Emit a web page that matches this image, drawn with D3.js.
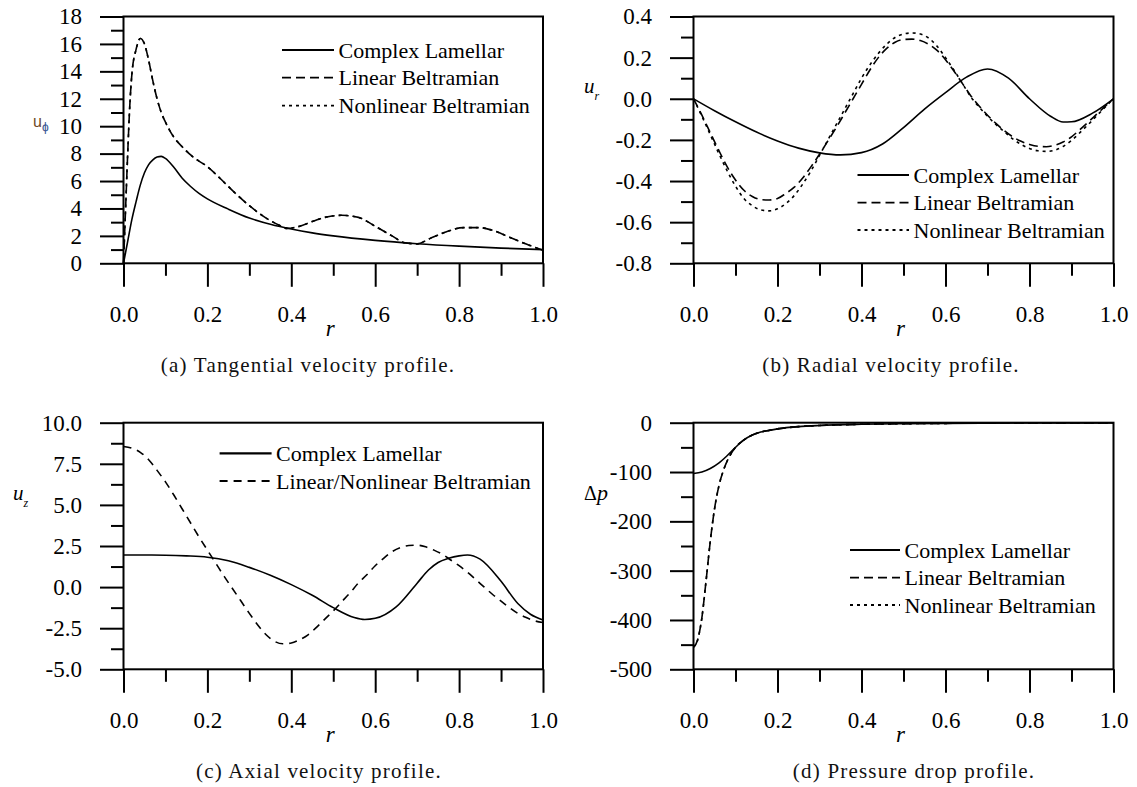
<!DOCTYPE html>
<html><head><meta charset="utf-8">
<script src="https://cdn.jsdelivr.net/npm/d3@7"></script>
<style>body{margin:0;background:#fff}svg{display:block}
svg text{font-family:"Liberation Serif","Times New Roman",Tinos,"DejaVu Serif",serif}
svg text.sans{font-family:"Liberation Sans",Arial,sans-serif}
</style>
</head><body>
<svg id="chart" width="1137" height="787"></svg>
<script>
// ---------- data ----------
const xTickLabels = ["0.0","0.2","0.4","0.6","0.8","1.0"];

// (a) tangential velocity
const aYLabels = ["0","2","4","6","8","10","12","14","16","18"];
const aComplexR = [0,0.01,0.02,0.03,0.04,0.05,0.06,0.07,0.08,0.09,0.1,0.12,0.14,0.16,0.18,0.2,0.25,0.3,0.35,0.4,0.45,0.5,0.6,0.7,0.8,0.9,1.0];
const aComplex  = [0,1.6,3.2,4.5,5.7,6.6,7.2,7.55,7.75,7.8,7.65,7.0,6.2,5.6,5.1,4.7,3.95,3.3,2.85,2.5,2.22,2.0,1.67,1.43,1.25,1.11,1.0];
const aBeltR = [0,0.005,0.01,0.015,0.02,0.03,0.04,0.05,0.06,0.07,0.08,0.09,0.1,0.11,0.12,0.14,0.16,0.18,0.2,0.23,0.26,0.3,0.34,0.37,0.39,0.42,0.45,0.48,0.52,0.56,0.6,0.64,0.67,0.7,0.73,0.77,0.81,0.85,0.88,0.92,0.96,1.0];
const aLinear    = [0,4.0,8.0,11.5,13.8,15.6,16.4,16.0,14.8,13.3,12.0,11.0,10.3,9.7,9.2,8.5,7.9,7.45,7.05,6.2,5.3,4.2,3.3,2.8,2.55,2.7,3.05,3.35,3.5,3.35,2.7,2.0,1.5,1.42,1.8,2.3,2.6,2.6,2.4,1.9,1.4,0.95];
const aNonlinear = [0,4.0,8.0,11.5,13.8,15.6,16.4,16.0,14.8,13.3,12.0,11.0,10.3,9.7,9.2,8.5,7.9,7.45,7.05,6.2,5.3,4.2,3.3,2.8,2.55,2.7,3.05,3.35,3.5,3.35,2.7,2.0,1.5,1.42,1.8,2.3,2.6,2.6,2.4,1.9,1.4,0.95];

// (b) radial velocity
const bYLabels = ["-0.8","-0.6","-0.4","-0.2","0.0","0.2","0.4"];
const bComplexR = [0,0.05,0.1,0.15,0.2,0.25,0.3,0.35,0.4,0.45,0.5,0.55,0.6,0.65,0.7,0.75,0.8,0.85,0.88,0.9,0.95,1.0];
const bComplex  = [0,-0.058,-0.112,-0.162,-0.205,-0.24,-0.263,-0.273,-0.262,-0.22,-0.14,-0.05,0.03,0.105,0.145,0.1,0.0,-0.085,-0.113,-0.112,-0.07,0];
const bBeltR = [0,0.02,0.04,0.06,0.08,0.1,0.12,0.14,0.16,0.18,0.2,0.22,0.24,0.26,0.28,0.3,0.32,0.34,0.36,0.38,0.4,0.42,0.44,0.46,0.48,0.5,0.52,0.54,0.56,0.58,0.6,0.62,0.64,0.66,0.68,0.7,0.72,0.74,0.76,0.78,0.8,0.82,0.84,0.86,0.88,0.9,0.92,0.94,0.96,0.98,1.0];
const bLinear    = [0,-0.08,-0.165,-0.25,-0.33,-0.395,-0.445,-0.475,-0.49,-0.492,-0.485,-0.46,-0.43,-0.385,-0.33,-0.27,-0.205,-0.14,-0.07,0.0,0.07,0.14,0.2,0.245,0.275,0.288,0.29,0.283,0.265,0.235,0.19,0.135,0.075,0.015,-0.035,-0.08,-0.12,-0.155,-0.185,-0.207,-0.222,-0.231,-0.233,-0.226,-0.21,-0.185,-0.15,-0.113,-0.075,-0.037,0];
const bNonlinear = [0,-0.085,-0.175,-0.265,-0.35,-0.425,-0.485,-0.52,-0.54,-0.545,-0.535,-0.51,-0.47,-0.415,-0.35,-0.275,-0.2,-0.125,-0.05,0.025,0.1,0.165,0.22,0.265,0.298,0.315,0.32,0.315,0.295,0.255,0.2,0.14,0.075,0.01,-0.04,-0.085,-0.125,-0.16,-0.195,-0.222,-0.242,-0.253,-0.256,-0.25,-0.232,-0.203,-0.165,-0.125,-0.083,-0.041,0];

// (c) axial velocity
const cYLabels = ["-5.0","-2.5","0.0","2.5","5.0","7.5","10.0"];
const cComplexR = [0,0.05,0.1,0.15,0.2,0.25,0.3,0.35,0.4,0.45,0.5,0.55,0.575,0.6,0.65,0.7,0.727,0.75,0.775,0.8,0.82,0.85,0.9,0.94,0.97,1.0];
const cComplex  = [1.95,1.95,1.94,1.9,1.82,1.6,1.2,0.72,0.15,-0.5,-1.25,-1.85,-1.97,-1.9,-1.2,0.24,1.04,1.5,1.75,1.9,1.95,1.7,0.35,-1.0,-1.65,-2.0];
const cBeltR = [0,0.02,0.04,0.06,0.08,0.1,0.12,0.14,0.16,0.18,0.2,0.22,0.24,0.26,0.28,0.3,0.32,0.34,0.36,0.38,0.4,0.42,0.44,0.46,0.48,0.5,0.52,0.54,0.56,0.58,0.6,0.62,0.64,0.66,0.68,0.7,0.72,0.74,0.76,0.78,0.8,0.82,0.84,0.86,0.88,0.9,0.92,0.94,0.96,0.98,1.0];
const cBeltrami = [8.55,8.45,8.2,7.75,7.1,6.4,5.6,4.75,3.9,3.05,2.25,1.45,0.65,-0.1,-0.85,-1.6,-2.3,-2.9,-3.3,-3.45,-3.4,-3.2,-2.9,-2.45,-1.95,-1.45,-0.9,-0.35,0.25,0.75,1.3,1.75,2.15,2.4,2.53,2.55,2.45,2.25,2.0,1.65,1.3,0.9,0.45,0.0,-0.45,-0.85,-1.25,-1.6,-1.85,-2.05,-2.15];

// (d) pressure drop
const dYLabels = ["-500","-400","-300","-200","-100","0"];
const dComplexR = [0,0.02,0.04,0.06,0.08,0.1,0.12,0.14,0.16,0.18,0.2,0.25,0.3,0.4,0.5,0.6,0.7,0.8,0.9,1.0];
const dComplex  = [-103,-100,-93,-82,-67,-50,-35,-25,-19,-15.5,-12.5,-8,-5.6,-3.2,-2,-1.3,-0.9,-0.6,-0.4,-0.3];
const dBeltR = [0,0.01,0.02,0.03,0.04,0.05,0.06,0.07,0.08,0.09,0.1,0.12,0.14,0.16,0.18,0.2,0.25,0.3,0.4,0.5,0.6,0.7,0.8,0.9,1.0];
const dLinear    = [-455,-440,-395,-320,-240,-175,-130,-100,-78,-62,-50,-35,-25,-19,-15.5,-12.5,-8,-5.6,-3.2,-2,-1.3,-0.9,-0.6,-0.4,-0.3];
const dNonlinear = [-455,-440,-395,-320,-240,-175,-130,-100,-78,-62,-50,-35,-25,-19,-15.5,-12.5,-8,-5.6,-3.2,-2,-1.3,-0.9,-0.6,-0.4,-0.3];

const legend3 = ["Complex Lamellar","Linear Beltramian","Nonlinear Beltramian"];
const legend2 = ["Complex Lamellar","Linear/Nonlinear Beltramian"];
const captions = ["(a) Tangential velocity profile.","(b) Radial velocity profile.","(c) Axial velocity profile.","(d) Pressure drop profile."];

// ---------- drawing ----------
const svg = d3.select("#chart");
const SOLID = null, DASH = "9,5", DOT = "3,4";

function panel(cfg){
  const g = svg.append("g");
  const x = d3.scaleLinear().domain([0,1]).range([cfg.x0,cfg.x1]);
  const yVals = cfg.yLabels.map(Number);
  const y = d3.scaleLinear().domain(d3.extent(yVals)).range([cfg.yBot,cfg.yTop]);
  const yMinor = d3.pairs(yVals).map(p=>(p[0]+p[1])/2);
  const xVals = xTickLabels.map(Number);
  const xMinor = d3.pairs(xVals).map(p=>(p[0]+p[1])/2);

  const style = sel => {
    sel.select(".domain").remove();
    sel.attr("font-family",null).attr("font-size",null);
    sel.selectAll("line").attr("stroke","#000").attr("stroke-width",2);
    sel.selectAll("text").attr("font-size",23).attr("fill","#000");
  };
  g.append("g").attr("transform",`translate(${cfg.x0},0)`)
    .call(d3.axisLeft(y).tickValues(yMinor).tickSize(12.5).tickFormat("")).call(style);
  g.append("g").attr("transform",`translate(${cfg.x0},0)`)
    .call(d3.axisLeft(y).tickValues(yVals).tickSize(23.5).tickPadding(18).tickFormat((d,i)=>cfg.yLabels[i])).call(style);
  g.append("g").attr("transform",`translate(0,${cfg.yBot})`)
    .call(d3.axisBottom(x).tickValues(xMinor).tickSize(12.5).tickFormat("")).call(style);
  g.append("g").attr("transform",`translate(0,${cfg.yBot})`)
    .call(d3.axisBottom(x).tickValues(xVals).tickSize(23.5).tickPadding(18.5).tickFormat((d,i)=>xTickLabels[i])).call(style);

  g.append("rect").attr("x",cfg.x0).attr("y",cfg.yTop).attr("width",cfg.x1-cfg.x0).attr("height",cfg.yBot-cfg.yTop)
    .attr("fill","none").attr("stroke","#000").attr("stroke-width",2);

  const line = d3.line().x(d=>x(d[0])).y(d=>y(d[1])).curve(d3.curveMonotoneX);
  cfg.series.slice().reverse().forEach(s=>{
    g.append("path").datum(d3.zip(s.r,s.v)).attr("d",line)
      .attr("fill","none").attr("stroke","#000").attr("stroke-width",1.6)
      .attr("stroke-dasharray",s.dash);
  });

  // legend
  cfg.series.forEach((s,i)=>{
    const yy = cfg.leg.rows[i];
    g.append("line").attr("x1",cfg.leg.x).attr("x2",cfg.leg.x+cfg.leg.len).attr("y1",yy).attr("y2",yy)
      .attr("stroke","#000").attr("stroke-width",s.dash?1.8:2.2).attr("stroke-dasharray",s.dash);
    g.append("text").attr("x",cfg.leg.x+cfg.leg.len+4.5).attr("y",yy+7.5)
      .attr("font-size",22).attr("fill","#000").text(s.name);
  });

  // x label
  g.append("text").attr("x",(cfg.x0+cfg.x1)/2-3).attr("y",cfg.yBot+73)
    .attr("text-anchor","middle").attr("font-style","italic")
    .attr("font-size",23).text("r");
  // caption
  g.append("text").attr("x",cfg.capX).attr("y",cfg.yBot+108.5).attr("text-anchor","middle")
    .attr("font-size",21).attr("letter-spacing",1.2).attr("fill","#111").text(cfg.caption);
  cfg.ylab(g);
}

panel({x0:123.5,x1:543,yTop:16.5,yBot:263.3,yLabels:aYLabels,capX:308,caption:captions[0],
  series:[{name:legend3[0],r:aComplexR,v:aComplex,dash:SOLID},
          {name:legend3[1],r:aBeltR,v:aLinear,dash:DASH},
          {name:legend3[2],r:aBeltR,v:aNonlinear,dash:DOT}],
  leg:{x:282,len:52,rows:[50,77.7,105.7]},
  ylab:g=>{const t=g.append("text").attr("class","sans").attr("x",33).attr("y",127);
    t.append("tspan").attr("font-size",16).attr("fill","#6e4a28").text("u");
    t.append("tspan").attr("font-size",12).attr("dy",4).attr("fill","#2f4f8f").text("\u03d5");}
});
panel({x0:693.5,x1:1113.5,yTop:16.5,yBot:263.3,yLabels:bYLabels,capX:891,caption:captions[1],
  series:[{name:legend3[0],r:bComplexR,v:bComplex,dash:SOLID},
          {name:legend3[1],r:bBeltR,v:bLinear,dash:DASH},
          {name:legend3[2],r:bBeltR,v:bNonlinear,dash:DOT}],
  leg:{x:857.5,len:51.5,rows:[175,202.7,230]},
  ylab:g=>{const t=g.append("text").attr("x",584).attr("y",93).attr("font-style","italic");
    t.append("tspan").attr("font-size",21).text("u");
    t.append("tspan").attr("font-size",12).attr("dy",7).text("r");}
});
panel({x0:123.5,x1:543,yTop:422.7,yBot:669.3,yLabels:cYLabels,capX:319,caption:captions[2],
  series:[{name:legend2[0],r:cComplexR,v:cComplex,dash:SOLID},
          {name:legend2[1],r:cBeltR,v:cBeltrami,dash:"8,6"}],
  leg:{x:219.6,len:52,rows:[453.3,481]},
  ylab:g=>{const t=g.append("text").attr("x",13).attr("y",500).attr("font-style","italic");
    t.append("tspan").attr("font-size",21).text("u");
    t.append("tspan").attr("font-size",12).attr("dy",7).text("z");}
});
panel({x0:693.5,x1:1113.5,yTop:422.7,yBot:669.3,yLabels:dYLabels,capX:914,caption:captions[3],
  series:[{name:legend3[0],r:dComplexR,v:dComplex,dash:SOLID},
          {name:legend3[1],r:dBeltR,v:dLinear,dash:DASH},
          {name:legend3[2],r:dBeltR,v:dNonlinear,dash:DOT}],
  leg:{x:850,len:50,rows:[550,577.7,605]},
  ylab:g=>{const t=g.append("text").attr("x",584).attr("y",500);
    t.append("tspan").attr("font-size",20).text("\u0394");
    t.append("tspan").attr("font-size",22).attr("font-style","italic").text("p");}
});
</script>
</body></html>
